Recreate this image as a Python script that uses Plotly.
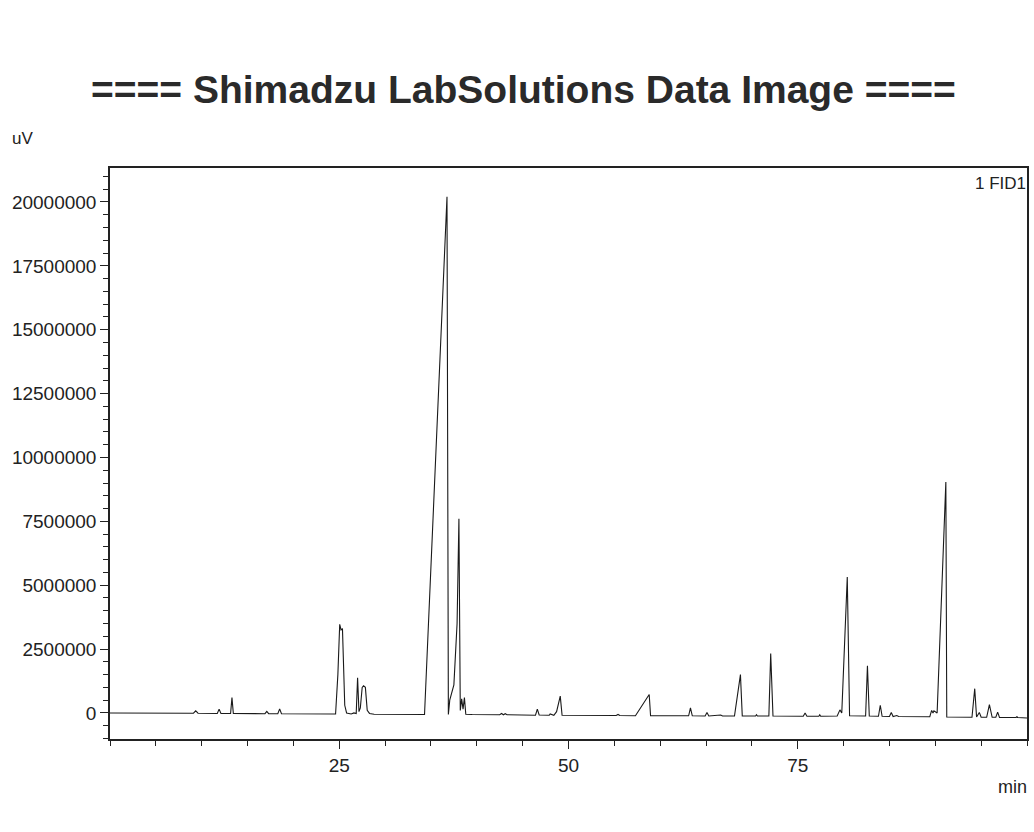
import plotly.graph_objects as go

# Chromatogram vertices: retention time (min) and signal (millions of uV)
time_min = [
    0.0, 9.1, 9.35, 9.6, 11.7, 11.9, 12.1, 13.15, 13.3, 13.45,
    16.9, 17.1, 17.3, 18.3, 18.5, 18.7,
    24.6, 24.85, 25.05, 25.2, 25.35, 25.6, 25.8, 26.3, 26.6,
    26.85, 27.0, 27.15, 27.3, 27.5, 27.65, 27.85, 28.05, 28.3, 28.8,
    34.3, 36.75, 36.9, 37.05, 37.25, 37.5, 37.85, 38.05, 38.2, 38.35, 38.5, 38.65, 38.8, 39.5,
    42.5, 42.7, 42.9, 43.1, 43.3,
    46.4, 46.6, 46.8, 47.9, 48.0, 48.4, 48.7, 49.1, 49.3,
    55.2, 55.4, 55.6, 57.3, 58.8, 58.95,
    63.1, 63.3, 63.5, 64.9, 65.1, 65.3, 66.6, 66.8,
    68.1, 68.75, 68.95, 70.4, 70.5, 70.6, 71.85, 72.05, 72.3,
    75.6, 75.8, 76.0, 77.3, 77.4, 77.5,
    79.3, 79.6, 79.8, 80.4, 80.65, 82.4, 82.6, 82.8,
    83.8, 84.0, 84.2, 85.0, 85.2, 85.4, 85.8, 86.0,
    89.4, 89.6, 89.75, 89.85, 90.2, 91.15, 91.25,
    94.0, 94.3, 94.5, 94.8, 95.0, 95.6, 95.9, 96.2, 96.6, 96.8, 97.0,
    98.8, 98.9, 99.0, 100.0,
]
signal_muv = [
    0.0, -0.01, 0.08, -0.01, -0.02, 0.15, -0.02, -0.02, 0.60, -0.02,
    -0.03, 0.06, -0.03, -0.03, 0.16, -0.03,
    -0.04, 1.5, 3.47, 3.25, 3.3, 0.3, 0.0, -0.04, 0.0,
    -0.02, 1.38, 0.05, 0.2, 1.0, 1.06, 1.0, 0.1, -0.02, -0.05,
    -0.06, 20.2, -0.06, 0.5, 0.78, 1.1, 3.5, 7.6, 0.1, 0.55, 0.15, 0.6, -0.05, -0.06,
    -0.07, -0.02, -0.07, -0.03, -0.07,
    -0.09, 0.15, -0.08, -0.09, -0.04, -0.09, 0.05, 0.66, -0.09,
    -0.1, -0.06, -0.1, -0.11, 0.72, -0.11,
    -0.11, 0.2, -0.11, -0.12, 0.02, -0.12, -0.08, -0.12,
    -0.12, 1.5, -0.12, -0.12, -0.07, -0.12, -0.12, 2.33, -0.12,
    -0.13, 0.0, -0.13, -0.13, -0.07, -0.13,
    -0.12, 0.12, 0.0, 5.32, -0.11, -0.12, 1.85, -0.12,
    -0.13, 0.3, -0.13, -0.14, 0.02, -0.14, -0.10, -0.14,
    -0.15, 0.1, 0.0, 0.08, 0.0, 9.04, -0.16,
    -0.17, 0.95, -0.16, 0.02, -0.17, -0.17, 0.33, -0.17, -0.17, 0.03, -0.18,
    -0.18, -0.15, -0.18, -0.2,
]
signal_uv = [v * 1e6 for v in signal_muv]

y_tick_vals = [0, 2500000, 5000000, 7500000, 10000000, 12500000, 15000000, 17500000, 20000000]
y_tick_text = ["0", "2500000", "5000000", "7500000", "10000000", "12500000", "15000000", "17500000", "20000000"]
x_tick_vals = [25, 50, 75]
x_tick_text = ["25", "50", "75"]

title_text = "==== Shimadzu LabSolutions Data Image ===="
channel_label = "1 FID1"

FONT = "Liberation Sans, Arial, sans-serif"

fig = go.Figure()
fig.add_trace(go.Scatter(
    x=time_min, y=signal_uv, mode="lines",
    line=dict(color="#1a1a1a", width=1.1),
    showlegend=False, hoverinfo="x+y",
))

fig.update_layout(
    width=1034, height=832,
    margin=dict(l=110, r=5, t=168, b=93),
    paper_bgcolor="white", plot_bgcolor="white",
    font=dict(family=FONT, color="#222", size=18),
    showlegend=False,
)

fig.update_xaxes(
    range=[0, 100], showgrid=False, zeroline=False,
    showline=True, linecolor="#222", linewidth=1.5, mirror=True,
    ticks="outside", ticklen=8, tickwidth=1.2, tickcolor="#222",
    tickvals=x_tick_vals, ticktext=x_tick_text,
    tickfont=dict(size=19, family=FONT, color="#222"),
    minor=dict(ticks="outside", dtick=5, tick0=0, ticklen=5, tickwidth=1, tickcolor="#222", showgrid=False),
)
fig.update_yaxes(
    range=[-1.02e6, 21.33e6], showgrid=False, zeroline=False,
    showline=True, linecolor="#222", linewidth=1.5, mirror=True,
    ticks="outside", ticklen=8, tickwidth=1.2, tickcolor="#222",
    tickvals=y_tick_vals, ticktext=y_tick_text,
    tickfont=dict(size=19, family=FONT, color="#222"),
    minor=dict(ticks="outside", dtick=500000, tick0=0, ticklen=5, tickwidth=1, tickcolor="#222", showgrid=False),
)

fig.add_annotation(text="<b>" + title_text + "</b>", xref="paper", yref="paper",
                   x=0.4505, y=1.1375, xanchor="center", yanchor="middle", showarrow=False,
                   font=dict(size=39, family=FONT, color="#2a2a2a"))
fig.add_annotation(text="uV", xref="paper", yref="paper",
                   x=-0.0958, y=1.052, xanchor="center", yanchor="middle", showarrow=False,
                   font=dict(size=17, family=FONT, color="#222"))
fig.add_annotation(text="min", xref="paper", yref="paper",
                   x=1.002, y=-0.084, xanchor="right", yanchor="middle", showarrow=False,
                   font=dict(size=18, family=FONT, color="#222"))
fig.add_annotation(text=channel_label, xref="paper", yref="paper",
                   x=1.001, y=0.9737, xanchor="right", yanchor="middle", showarrow=False,
                   font=dict(size=17, family=FONT, color="#222"))

fig.write_html("out.html")
